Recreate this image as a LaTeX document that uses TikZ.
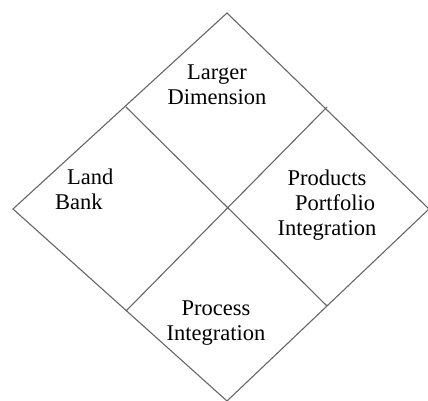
\documentclass[tikz,border=0pt]{standalone}
\usepackage{fontspec}
\setmainfont{Liberation Serif}
\begin{document}
\begin{tikzpicture}[x=1pt,y=-1pt,
	edge/.style={draw=black!60,line width=1.1pt},
	lbl/.style={font=\fontsize{22.5}{25}\selectfont,inner sep=0pt}]
			%%%%% START %%%%%
			\useasboundingbox (0,0) rectangle (428,401);
			
			\coordinate (top) at (227,13);
			\coordinate (left) at (13,209);
			\coordinate (right) at (429,209);
			\coordinate (bottom) at (227,401);
			
			\coordinate (ul) at (126,107);
			\coordinate (ur) at (327,107);
			\coordinate (ll) at (126,311);
			\coordinate (lr) at (327,306);
			
			\draw[edge] (top) -- (right) -- (bottom) -- (left) -- cycle;
			\draw[edge] (ul) -- (lr);
			\draw[edge] (ur) -- (ll);
			
			\node[lbl, align=center] (larger) at (217,85) {Larger\\Dimension};
			\node[lbl, align=left, anchor=west] (land) at (55,189) {\hspace*{12pt}Land\\Bank};
			\node[lbl, align=center] (products) at (327,205) {Products\\\hspace*{16pt}Portfolio\\Integration};
			\node[lbl, align=center] (process) at (216,323) {Process\\Integration};
			%%%%% END %%%%%
\end{tikzpicture}
\end{document}
